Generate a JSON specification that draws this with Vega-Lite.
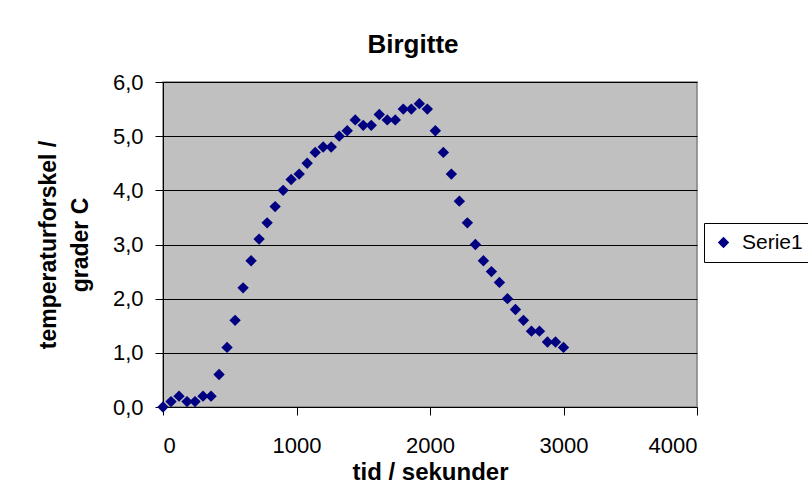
{
  "$schema": "https://vega.github.io/schema/vega-lite/v6.json",
  "width": 534,
  "height": 325,
  "autosize": {"type": "none"},
  "padding": {"left": 163, "top": 82, "right": 111, "bottom": 81},
  "background": "white",
  "title": {"text": "Birgitte", "font": "Liberation Sans", "fontSize": 26, "fontWeight": "bold", "color": "black", "dx": -17, "offset": 13},
  "config": {
    "view": {"fill": "#C0C0C0", "stroke": "#808080", "strokeWidth": 1.5},
    "axis": {"labelFont": "Liberation Sans", "labelFontSize": 22, "labelColor": "black", "titleFont": "Liberation Sans", "titleFontWeight": "bold", "titleColor": "black", "domainColor": "black", "tickColor": "black", "domainWidth": 1, "tickWidth": 1}
  },
  "data": {"values": [
    {"t": 0, "v": 0.0, "s": "Serie1"},
    {"t": 60, "v": 0.1, "s": "Serie1"},
    {"t": 120, "v": 0.2, "s": "Serie1"},
    {"t": 180, "v": 0.1, "s": "Serie1"},
    {"t": 240, "v": 0.1, "s": "Serie1"},
    {"t": 300, "v": 0.2, "s": "Serie1"},
    {"t": 360, "v": 0.2, "s": "Serie1"},
    {"t": 420, "v": 0.6, "s": "Serie1"},
    {"t": 480, "v": 1.1, "s": "Serie1"},
    {"t": 540, "v": 1.6, "s": "Serie1"},
    {"t": 600, "v": 2.2, "s": "Serie1"},
    {"t": 660, "v": 2.7, "s": "Serie1"},
    {"t": 720, "v": 3.1, "s": "Serie1"},
    {"t": 780, "v": 3.4, "s": "Serie1"},
    {"t": 840, "v": 3.7, "s": "Serie1"},
    {"t": 900, "v": 4.0, "s": "Serie1"},
    {"t": 960, "v": 4.2, "s": "Serie1"},
    {"t": 1020, "v": 4.3, "s": "Serie1"},
    {"t": 1080, "v": 4.5, "s": "Serie1"},
    {"t": 1140, "v": 4.7, "s": "Serie1"},
    {"t": 1200, "v": 4.8, "s": "Serie1"},
    {"t": 1260, "v": 4.8, "s": "Serie1"},
    {"t": 1320, "v": 5.0, "s": "Serie1"},
    {"t": 1380, "v": 5.1, "s": "Serie1"},
    {"t": 1440, "v": 5.3, "s": "Serie1"},
    {"t": 1500, "v": 5.2, "s": "Serie1"},
    {"t": 1560, "v": 5.2, "s": "Serie1"},
    {"t": 1620, "v": 5.4, "s": "Serie1"},
    {"t": 1680, "v": 5.3, "s": "Serie1"},
    {"t": 1740, "v": 5.3, "s": "Serie1"},
    {"t": 1800, "v": 5.5, "s": "Serie1"},
    {"t": 1860, "v": 5.5, "s": "Serie1"},
    {"t": 1920, "v": 5.6, "s": "Serie1"},
    {"t": 1980, "v": 5.5, "s": "Serie1"},
    {"t": 2040, "v": 5.1, "s": "Serie1"},
    {"t": 2100, "v": 4.7, "s": "Serie1"},
    {"t": 2160, "v": 4.3, "s": "Serie1"},
    {"t": 2220, "v": 3.8, "s": "Serie1"},
    {"t": 2280, "v": 3.4, "s": "Serie1"},
    {"t": 2340, "v": 3.0, "s": "Serie1"},
    {"t": 2400, "v": 2.7, "s": "Serie1"},
    {"t": 2460, "v": 2.5, "s": "Serie1"},
    {"t": 2520, "v": 2.3, "s": "Serie1"},
    {"t": 2580, "v": 2.0, "s": "Serie1"},
    {"t": 2640, "v": 1.8, "s": "Serie1"},
    {"t": 2700, "v": 1.6, "s": "Serie1"},
    {"t": 2760, "v": 1.4, "s": "Serie1"},
    {"t": 2820, "v": 1.4, "s": "Serie1"},
    {"t": 2880, "v": 1.2, "s": "Serie1"},
    {"t": 2940, "v": 1.2, "s": "Serie1"},
    {"t": 3000, "v": 1.1, "s": "Serie1"}
  ]},
  "mark": {"type": "point", "shape": "diamond", "filled": true, "size": 130, "opacity": 1},
  "encoding": {
    "x": {"field": "t", "type": "quantitative", "scale": {"domain": [0, 4000], "nice": false},
      "axis": {"values": [0, 1000, 2000, 3000, 4000], "format": "d", "grid": false, "tickSize": 8, "labelPadding": 20, "title": "tid / sekunder", "titleFontSize": 24, "titlePadding": 4}},
    "y": {"field": "v", "type": "quantitative", "scale": {"domain": [0, 6], "nice": false},
      "axis": {"values": [0, 1, 2, 3, 4, 5, 6], "grid": true, "gridColor": "black", "gridWidth": 1, "tickSize": 8, "labelPadding": 12,
        "labelExpr": "replace(format(datum.value, '.1f'), '.', ',')",
        "title": ["temperaturforskel /", "grader C"], "titleFontSize": 23, "titlePadding": 20, "titleLineHeight": 32}},
    "color": {"field": "s", "type": "nominal", "scale": {"range": ["#000080"]},
      "legend": {"title": null, "orient": "none", "legendX": 541, "legendY": 141, "strokeColor": "black", "fillColor": "white", "padding": 9, "labelFont": "Liberation Sans", "labelFontSize": 21, "labelColor": "black", "symbolType": "diamond", "symbolSize": 130, "symbolOpacity": 1, "labelOffset": 8}}
  }
}
